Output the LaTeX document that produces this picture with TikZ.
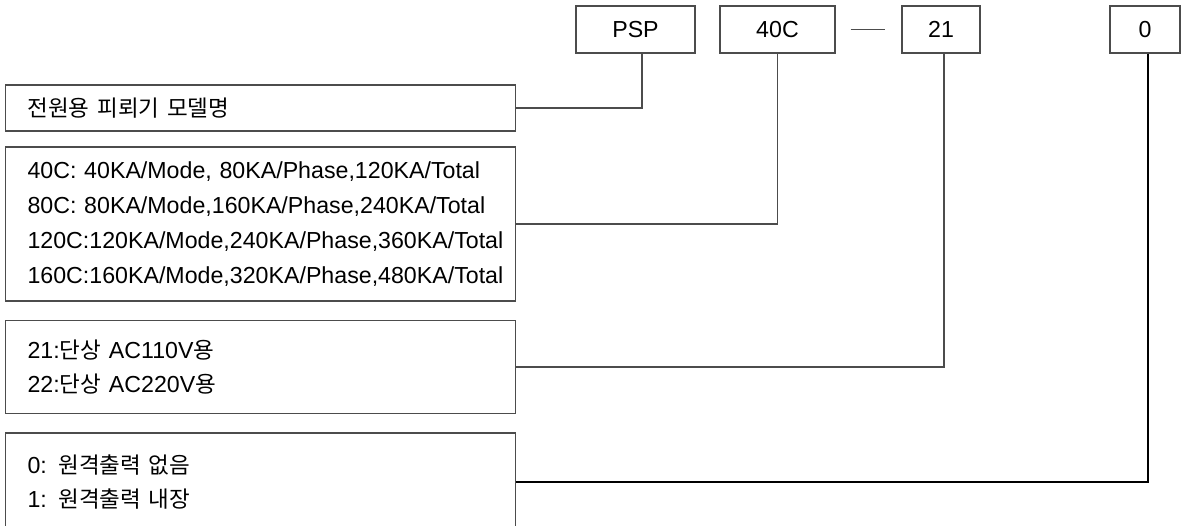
\documentclass[tikz,border=0pt]{standalone}
\usepackage{fontspec}
\setmainfont{Liberation Sans}
\newfontfamily\kr{Noto Sans CJK KR}[Scale=0.97]
\tikzset{
    code/.style={draw, minimum height=0.94cm, inner sep=0pt, text=black},
    info/.style={draw, inner xsep=0.45cm, inner ysep=0pt, text width=9.32cm, align=left, text=black,
        execute at begin node={\hfuzz=1cm}}
}
\begin{document}
\begin{tikzpicture}[x=0.02cm, y=-0.02cm, line width=0.6pt, color=black!70,
    font=\fontsize{13.2pt}{19.8pt}\selectfont]
    \useasboundingbox (0,0) rectangle (1181,526);
    %code
    \node[code, minimum width=2.38cm] (psp) at (635.5,29.5) {PSP};
    \node[code, minimum width=2.30cm] (rate) at (777.5,29.5) {40C};
    \node[code, minimum width=1.56cm] (volt) at (941,29.5) {21};
    \node[code, minimum width=1.40cm] (out) at (1145,29.5) {0};
    \draw ([xshift=0.3cm]rate.east) -- ([xshift=-0.32cm]volt.west);
    %meaning
    \node[info, minimum height=0.92cm] (model) at (260.5,108) {{\kr 전원용 피뢰기 모델명}};
    \node[info, minimum height=3.08cm] (rating) at (260.5,224) {40C: 40KA/Mode, 80KA/Phase,120KA/Total\\
        80C: 80KA/Mode,160KA/Phase,240KA/Total\\
        120C:120KA/Mode,240KA/Phase,360KA/Total\\
        160C:160KA/Mode,320KA/Phase,480KA/Total};
    \node[info, minimum height=1.86cm] (voltage) at (260.5,367) {21:{\kr 단상} AC110V{\kr 용}\\
        22:{\kr 단상} AC220V{\kr 용}};
    \node[info, minimum height=1.96cm] (remote) at (260.5,482) {0: {\kr 원격출력 없음}\\
        1: {\kr 원격출력 내장}};
    %lines
    \draw ([xshift=0.13cm]psp.south) |- (model.east);
    \draw (rate.south) |- (rating.east);
    \draw ([xshift=0.06cm]volt.south) |- (voltage.east);
    \draw[black] ([xshift=0.06cm]out.south) |- (remote.east);
\end{tikzpicture}
\end{document}
